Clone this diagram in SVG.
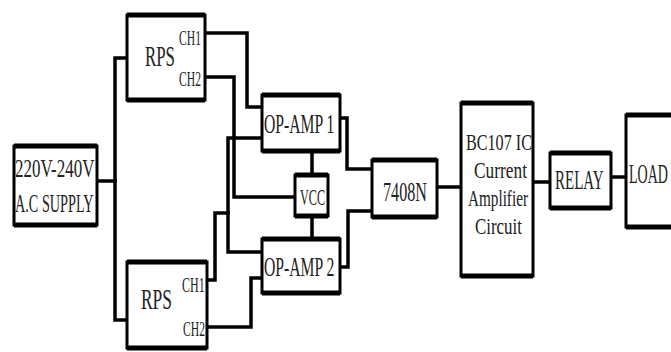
<svg xmlns="http://www.w3.org/2000/svg" width="671" height="352" viewBox="0 0 671 352">
<style>
.box{fill:#fff;stroke:#000;stroke-width:3}
.edge{fill:none;stroke:#000;stroke-width:5}
.w{fill:none;stroke:#000;stroke-width:3.5;stroke-linejoin:miter;stroke-linecap:square}
text{font-family:"Liberation Serif","Times New Roman",serif;fill:#222}
</style>
<rect width="671" height="352" fill="#fff"/>
<g id="connectors">
<path class="w" d="M97,181 H115"/>
<path class="w" d="M127,58 H115 V320 H127"/>
<path class="w" d="M205,33 H247 V107 H262"/>
<path class="w" d="M205,77 H234 V197 H295"/>
<path class="w" d="M262,138 H228 V252 H262"/>
<path class="w" d="M207,280 H215 V213 H228"/>
<path class="w" d="M207,327 H251 V278 H262"/>
<path class="w" d="M312,151 V175 M312,216 V239"/>
<path class="w" d="M340,118 H347 V169 H372"/>
<path class="w" d="M340,267 H348 V211 H372"/>
<path class="w" d="M437,187 H461"/>
<path class="w" d="M533,182 H550"/>
<path class="w" d="M611,177 H626"/>
</g>
<g id="ac">
<rect class="box" x="14" y="146" width="83" height="79"/>
<path class="edge" d="M14,146 H97 M14,225 H97"/>
<text font-size="26" transform="translate(15,177) scale(0.652,1)">220V-240V</text>
<text font-size="26" transform="translate(15,212) scale(0.548,1)">A.C SUPPLY</text>
</g>
<g id="rps1">
<rect class="box" x="127" y="15" width="78" height="85"/>
<path class="edge" d="M127,15 H205 M127,100 H205"/>
<text font-size="30" transform="translate(145,66) scale(0.562,1)">RPS</text>
<text font-size="20" transform="translate(179,45) scale(0.582,1)">CH1</text>
<text font-size="20" transform="translate(179,86) scale(0.582,1)">CH2</text>
</g>
<g id="rps2">
<rect class="box" x="127" y="262" width="80" height="86"/>
<path class="edge" d="M127,262 H207 M127,348 H207"/>
<text font-size="30" transform="translate(141,309) scale(0.58,1)">RPS</text>
<text font-size="20" transform="translate(182,292) scale(0.6,1)">CH1</text>
<text font-size="20" transform="translate(183,336) scale(0.582,1)">CH2</text>
</g>
<g id="op1">
<rect class="box" x="262" y="95" width="78" height="56"/>
<path class="edge" d="M262,95 H340 M262,151 H340"/>
<text font-size="28" transform="translate(264,133) scale(0.56,1)">OP-AMP 1</text>
</g>
<g id="vcc">
<rect class="box" x="295" y="175" width="33" height="41"/>
<path class="edge" d="M295,175 H328 M295,216 H328"/>
<text font-size="24" transform="translate(300,205) scale(0.507,1)">VCC</text>
</g>
<g id="op2">
<rect class="box" x="262" y="239" width="78" height="54"/>
<path class="edge" d="M262,239 H340 M262,293 H340"/>
<text font-size="28" transform="translate(264,276) scale(0.56,1)">OP-AMP 2</text>
</g>
<g id="and">
<rect class="box" x="372" y="160" width="65" height="57"/>
<path class="edge" d="M372,160 H437 M372,217 H437"/>
<text font-size="28" transform="translate(383,201) scale(0.577,1)">7408N</text>
</g>
<g id="bc107">
<rect class="box" x="461" y="103" width="72" height="173"/>
<path class="edge" d="M461,103 H533 M461,276 H533"/>
<text font-size="24" transform="translate(466,150) scale(0.673,1)">BC107 IC</text>
<text font-size="24" transform="translate(474,178) scale(0.723,1)">Current</text>
<text font-size="24" transform="translate(468,206) scale(0.634,1)">Amplifier</text>
<text font-size="24" transform="translate(475,234) scale(0.705,1)">Circuit</text>
</g>
<g id="relay">
<rect class="box" x="550" y="153" width="61" height="55"/>
<path class="edge" d="M550,153 H611 M550,208 H611"/>
<text font-size="27" transform="translate(555,189) scale(0.556,1)">RELAY</text>
</g>
<g id="load">
<rect class="box" x="626" y="115" width="60" height="112"/>
<path class="edge" d="M626,115 H686 M626,227 H686"/>
<text font-size="27" transform="translate(629,183) scale(0.52,1)">LOAD</text>
</g>
</svg>
